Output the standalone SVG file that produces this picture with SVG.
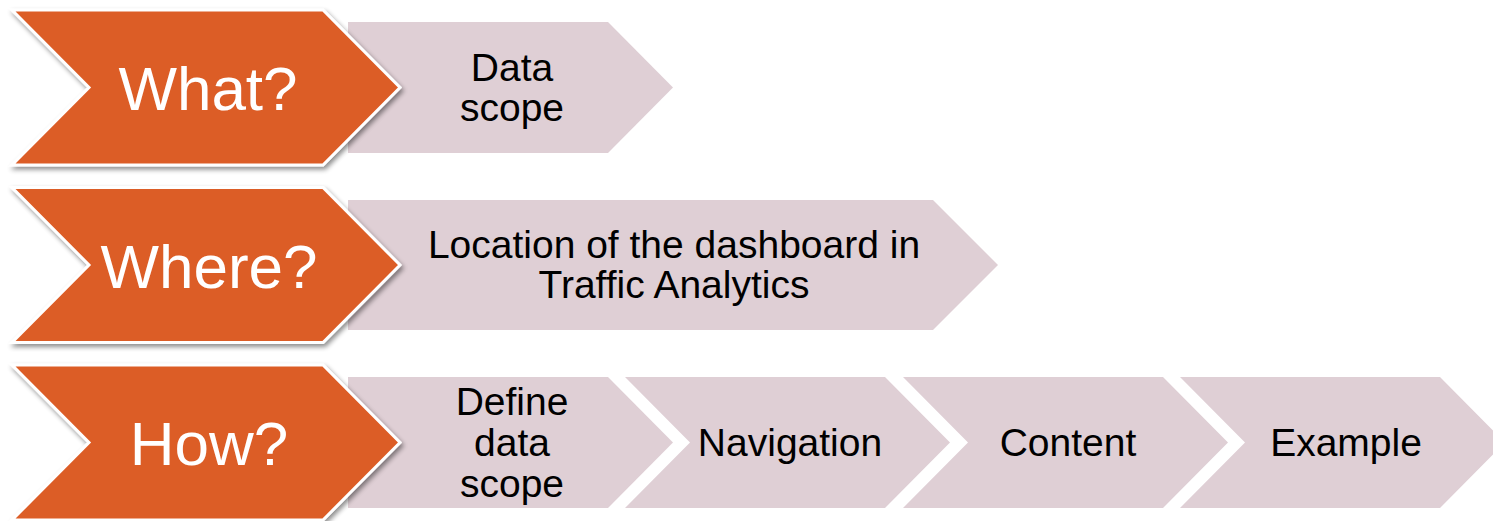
<svg xmlns="http://www.w3.org/2000/svg" width="1493" height="521" viewBox="0 0 1493 521">
<defs>
<filter id="sh" x="-10%" y="-10%" width="130%" height="130%">
<feGaussianBlur in="SourceAlpha" stdDeviation="2.5"/>
<feOffset dx="2" dy="3" result="b"/>
<feComponentTransfer><feFuncA type="linear" slope="0.45"/></feComponentTransfer>
<feMerge><feMergeNode/><feMergeNode in="SourceGraphic"/></feMerge>
</filter>
</defs>
<style>
.o{fill:#DC5D27;stroke:#FFFFFF;stroke-width:3;stroke-linejoin:miter;filter:url(#sh)}
.p{fill:#DFCFD5}
.ot{font-family:"Liberation Sans",Arial,sans-serif;font-size:62px;fill:#FFFFFF;text-anchor:middle}
.pt{font-family:"Liberation Sans",Arial,sans-serif;font-size:39px;fill:#000000;text-anchor:middle}
</style>
<rect width="1493" height="521" fill="#FFFFFF"/>
<g id="row1-data-scope">
<polygon class="p" points="348,22 608,22 673,87.5 608,153 348,153"/>
<text class="pt" x="512" y="81">Data</text>
<text class="pt" x="512" y="121">scope</text>
</g>
<g id="row1-what">
<polygon class="o" points="12,10 323,10 400,87.5 323,165 12,165 89,87.5"/>
<text class="ot" x="208" y="110">What?</text>
</g>
<g id="row2-location">
<polygon class="p" points="348,200 933,200 998,265 933,330 348,330"/>
<text class="pt" x="674" y="258">Location of the dashboard in</text>
<text class="pt" x="674" y="298">Traffic Analytics</text>
</g>
<g id="row2-where">
<polygon class="o" points="12,187.5 323,187.5 400,265 323,342.5 12,342.5 89,265"/>
<text class="ot" x="209" y="287.5">Where?</text>
</g>
<g id="row3-define">
<polygon class="p" points="348,377 608,377 673,442.5 608,508 348,508"/>
<text class="pt" x="512" y="415">Define</text>
<text class="pt" x="512" y="456">data</text>
<text class="pt" x="512" y="497">scope</text>
</g>
<g id="row3-navigation">
<polygon class="p" points="625,377 885,377 950,442.5 885,508 625,508 690,442.5"/>
<text class="pt" x="790" y="456">Navigation</text>
</g>
<g id="row3-content">
<polygon class="p" points="903,377 1163,377 1228,442.5 1163,508 903,508 968,442.5"/>
<text class="pt" x="1068" y="456">Content</text>
</g>
<g id="row3-example">
<polygon class="p" points="1180,377 1440,377 1505,442.5 1440,508 1180,508 1245,442.5"/>
<text class="pt" x="1346" y="456">Example</text>
</g>
<g id="row3-how">
<polygon class="o" points="12,365 323,365 400,442.5 323,520 12,520 89,442.5"/>
<text class="ot" x="209" y="465">How?</text>
</g>
</svg>
